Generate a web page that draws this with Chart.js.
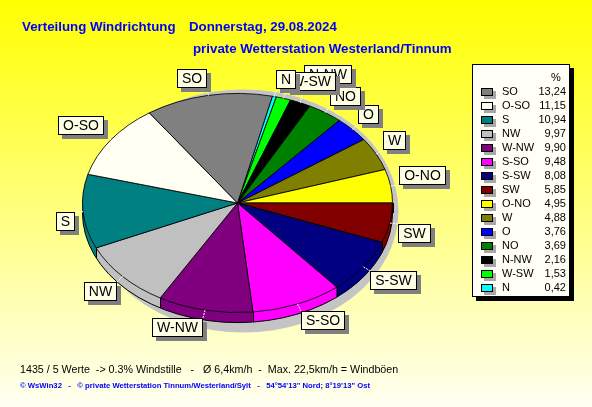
<!DOCTYPE html>
<html>
<head>
<meta charset="utf-8">
<script src="https://cdn.jsdelivr.net/npm/chart.js@4.4.0/dist/chart.umd.min.js"></script>
<style>
  html, body { margin: 0; padding: 0; }
  body {
    width: 592px; height: 407px; overflow: hidden; position: relative;
    background: linear-gradient(to bottom, #ffff00 0%, #ffff7a 50%, #fffff2 100%);
    font-family: "Liberation Sans", Arial, sans-serif;
  }
  #pie { position: absolute; left: 0; top: 0; }
  .txt { position: absolute; white-space: pre; line-height: 1; }
  .title { color: #0000ff; font-weight: bold; font-size: 13.3px; }
  #legend {
    position: absolute; left: 472px; top: 64px; width: 98px; height: 233px;
    box-sizing: border-box; border: 1px solid #000; background: #fffff6;
    box-shadow: 4px 4px 0 #000; font-size: 11px;
  }
  #legend .row { position: absolute; left: 0; width: 100%; height: 14px; }
  #legend .sw {
    position: absolute; left: 8px; top: 3px; width: 12px; height: 8px;
    box-sizing: border-box; border: 1px solid #000; box-shadow: 3px 3px 0 #a8a8a8;
  }
  #legend .lb { position: absolute; left: 29px; top: 1px; line-height: 1; }
  #legend .vl { position: absolute; right: 3px; top: 1px; line-height: 1; }
</style>
</head>
<body>
<canvas id="pie" width="592" height="407"></canvas>

<div class="txt title" style="left:22px; top:20px;">Verteilung Windrichtung</div>
<div class="txt title" style="left:189px; top:20px;">Donnerstag, 29.08.2024</div>
<div class="txt title" style="left:193px; top:42px;">private Wetterstation Westerland/Tinnum</div>

<div id="legend"><div class="txt" style="left:78px; top:7px;">%</div></div>

<div class="txt" style="left:20px; top:364px; font-size:10.7px; color:#000;">1435 / 5 Werte  -&gt; 0.3% Windstille   -   Ø 6,4km/h  -  Max. 22,5km/h = Windböen</div>
<div class="txt" style="left:20px; top:382px; font-size:7.7px; font-weight:bold; color:#0000ff;">© WsWin32   -   © private Wetterstation Tinnum/Westerland/Sylt   -   54°54'13" Nord; 8°19'13" Ost</div>

<script>
// wind direction shares, in legend order (largest first)
const directions = ["SO", "O-SO", "S", "NW", "W-NW", "S-SO", "S-SW", "SW", "O-NO", "W", "O", "NO", "N-NW", "W-SW", "N"];
const percents = [13.24, 11.15, 10.94, 9.97, 9.90, 9.48, 8.08, 5.85, 4.95, 4.88, 3.76, 3.69, 2.16, 1.53, 0.42];
const palette = ["#808080", "#fffff4", "#008080", "#c0c0c0", "#800080", "#ff00ff", "#000080", "#800000",
                 "#ffff00", "#808000", "#0000ff", "#008000", "#000000", "#00ff00", "#00ffff"];

const SQUASH = 0.707;   // pie seen from an angle
const DEPTH = 10;       // thickness of the side wall
const MIN_PUSH = 1;     // labels of slices below this share are never pushed aside

// legend
const legend = document.getElementById("legend");
directions.forEach((d, i) => {
  const row = document.createElement("div");
  row.className = "row";
  row.style.top = (20 + 14 * i) + "px";
  row.innerHTML = '<div class="sw" style="background:' + palette[i] + '"></div>' +
    '<div class="lb">' + d + '</div><div class="vl">' + percents[i].toFixed(2).replace(".", ",") + '</div>';
  legend.appendChild(row);
});

// the pie runs clockwise from N, i.e. the legend reversed
const chartLabels = directions.slice().reverse();
const chartValues = percents.slice().reverse();
const chartColors = palette.slice().reverse();

const pie3d = {
  id: "pie3d",
  beforeDatasetsDraw(chart) {
    const ctx = chart.ctx;
    const arcs = chart.getDatasetMeta(0).data;
    const cx = arcs[0].x, cy = arcs[0].y, r = arcs[0].outerRadius;
    const colors = chart.data.datasets[0].backgroundColor;

    ctx.save();
    // shadow
    ctx.fillStyle = "#c4c4c4";
    ctx.beginPath();
    ctx.ellipse(cx + 6, cy + 8, r, r * SQUASH + 12, 0, 0, Math.PI * 2);
    ctx.fill();

    // side wall
    for (let d = DEPTH; d >= 1; d--) {
      ctx.save();
      ctx.translate(cx, cy + d);
      ctx.scale(1, SQUASH);
      arcs.forEach((a, i) => {
        ctx.beginPath();
        ctx.moveTo(0, 0);
        ctx.arc(0, 0, r, a.startAngle, a.endAngle);
        ctx.closePath();
        ctx.fillStyle = colors[i];
        ctx.fill();
      });
      ctx.restore();
    }
    ctx.strokeStyle = "#000";
    ctx.lineWidth = 1;
    ctx.beginPath();
    ctx.ellipse(cx, cy + DEPTH, r, r * SQUASH, 0, 0, Math.PI);
    ctx.stroke();
    const edges = [0, Math.PI].concat(arcs.map(a => a.startAngle));
    ctx.beginPath();
    edges.forEach(t => {
      t = ((t % (2 * Math.PI)) + 2 * Math.PI) % (2 * Math.PI);
      if (t <= Math.PI + 1e-6) {
        const x = Math.round(cx + r * Math.cos(t)) + 0.5;
        const y = cy + r * SQUASH * Math.sin(t);
        ctx.moveTo(x, y);
        ctx.lineTo(x, y + DEPTH);
      }
    });
    ctx.stroke();
    ctx.restore();

    // squash the top face
    ctx.save();
    ctx.translate(cx, cy);
    ctx.scale(1, SQUASH);
    ctx.translate(-cx, -cy);
  },
  afterDatasetsDraw(chart) {
    chart.ctx.restore();
  },
  afterDraw(chart) {
    const ctx = chart.ctx;
    const arcs = chart.getDatasetMeta(0).data;
    const cx = arcs[0].x, cy = arcs[0].y, r = arcs[0].outerRadius;
    const names = chart.data.labels;
    const vals = chart.data.datasets[0].data;
    const n = arcs.length;
    const gap = 8, boxH = 19;
    ctx.save();
    ctx.font = "14px 'Liberation Sans', Arial, sans-serif";

    const boxes = [];
    let skip = false;
    for (let k = 0; k < n; k++) {
      const i = n - 1 - k;  // legend order, counter-clockwise
      const a = arcs[i];
      const m = (a.startAngle + a.endAngle) / 2;
      const c = Math.cos(m), s = Math.sin(m);
      const ex = cx + r * c, ey = cy + r * SQUASH * s;
      const ax = cx + (r + gap) * c, ay = cy + (r * SQUASH + gap) * s;
      const w = Math.round(ctx.measureText(names[i]).width + 10);
      let x = c >= 0 ? ax : ax - w;
      let y = s >= 0 ? ay : ay - boxH;
      const prev = boxes[boxes.length - 1];
      let moved = false;
      if (prev && !skip && vals[i] >= MIN_PUSH &&
          x < prev.x + prev.w - 3 && x + w > prev.x + 3 &&
          y < prev.y + prev.h - 3 && y + boxH > prev.y + 3) {
        y = s < 0 ? prev.y - boxH - 3 : prev.y + prev.h + 3;
        moved = true;
      }
      skip = moved;
      x = Math.round(x); y = Math.round(y);
      boxes.push({ x, y, w, h: boxH, ex, ey, cx: c >= 0 ? x : x + w, cy: s >= 0 ? y : y + boxH, name: names[i] });
    }

    // leader lines
    ctx.strokeStyle = "#ffffff";
    ctx.lineWidth = 1;
    ctx.setLineDash([2, 1]);
    boxes.forEach(b => {
      ctx.beginPath();
      ctx.moveTo(b.ex, b.ey);
      ctx.lineTo(b.cx, b.cy);
      ctx.stroke();
    });
    ctx.setLineDash([]);

    // label boxes
    ctx.textAlign = "center";
    ctx.textBaseline = "middle";
    boxes.forEach(b => {
      ctx.fillStyle = "#808080";
      ctx.fillRect(b.x + 4, b.y + 4, b.w, b.h);
      ctx.fillStyle = "#ffffe6";
      ctx.fillRect(b.x, b.y, b.w, b.h);
      ctx.strokeStyle = "#000";
      ctx.strokeRect(b.x + 0.5, b.y + 0.5, b.w - 1, b.h - 1);
      ctx.fillStyle = "#000";
      ctx.fillText(b.name, b.x + b.w / 2, b.y + b.h / 2 + 1);
    });
    ctx.restore();
  }
};

new Chart(document.getElementById("pie"), {
  type: "pie",
  data: {
    labels: chartLabels,
    datasets: [{
      data: chartValues,
      backgroundColor: chartColors,
      borderColor: "#000",
      borderWidth: 1
    }]
  },
  options: {
    responsive: false,
    animation: false,
    devicePixelRatio: 1,
    rotation: 13,
    events: [],
    layout: { padding: { left: 82, right: 199, top: 47.5, bottom: 48.5 } },
    plugins: {
      legend: { display: false },
      tooltip: { enabled: false },
      title: { display: false }
    }
  },
  plugins: [pie3d]
});
</script>
</body>
</html>
